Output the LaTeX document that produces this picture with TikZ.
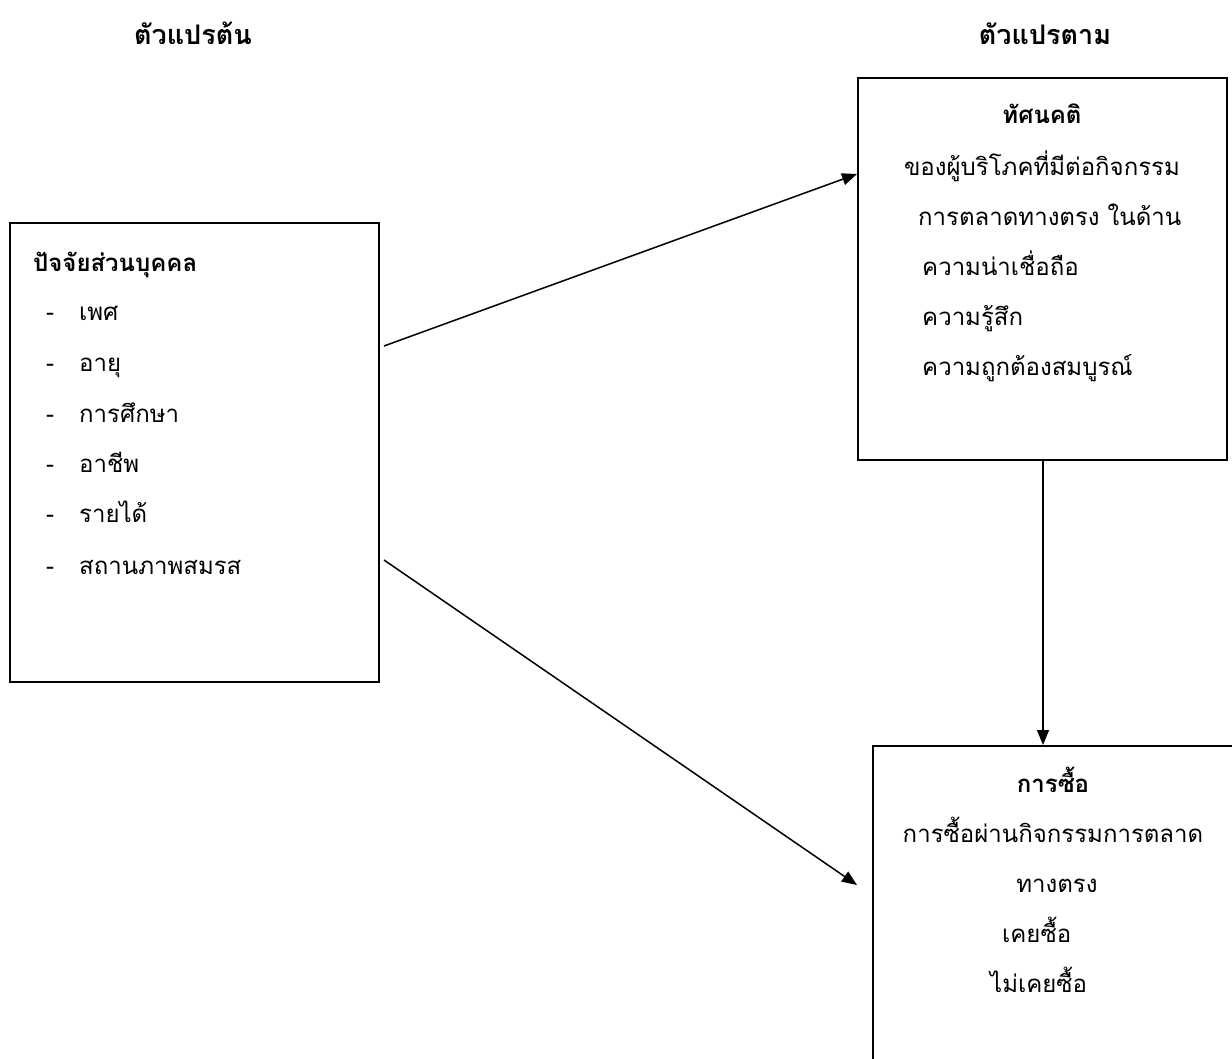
\documentclass[tikz,border=0pt]{standalone}
\usepackage{fontspec}
\newfontfamily\thaifont[Script=Thai]{Loma}
\usetikzlibrary{arrows.meta}
\begin{document}
\begin{tikzpicture}[x=1pt,y=-1pt,
  boxframe/.style={draw=black,line width=2pt,inner sep=0pt,anchor=north west},
  conn/.style={line width=1.5pt,-{Triangle[length=15pt,width=12pt]}},
  ttl/.style={font=\thaifont\fontsize{27}{30}\selectfont\bfseries,anchor=base,inner sep=0pt},
  txt/.style={font=\thaifont\fontsize{24}{28}\selectfont,inner sep=0pt},
  btxt/.style={font=\thaifont\fontsize{24}{28}\selectfont\bfseries,inner sep=0pt}]
\useasboundingbox (0,0) rectangle (1232,1059);
\clip (0,0) rectangle (1232,1059);
% titles
\node[ttl] (t1) at (193,45) {ตัวแปรต้น};
\node[ttl] (t2) at (1045,45) {ตัวแปรตาม};
% boxes
\node[boxframe,minimum width=369pt,minimum height=459pt] (left) at (9,222) {};
\node[boxframe,minimum width=369pt,minimum height=382pt] (att) at (857,77) {};
\node[boxframe,minimum width=380pt,minimum height=340pt] (buy) at (872,745) {};
% left box text
\node[btxt,anchor=base west] (l0) at (33,272) {ปัจจัยส่วนบุคคล};
\foreach \y/\t/\n in {321/เพศ/a,372/อายุ/b,422/การศึกษา/c,472/อาชีพ/d,522/รายได้/e,574/สถานภาพสมรส/f}{
  \node[txt,anchor=base] (d\n) at (50,\y) {-};
  \node[txt,anchor=base west] (i\n) at (79,\y) {\t};
}
% attitude box text
\node[btxt,anchor=base] (a0) at (1042,124) {ทัศนคติ};
\node[txt,anchor=base] (a1) at (1042,176) {ของผู้บริโภคที่มีต่อกิจกรรม};
\node[txt,anchor=base west] (a2) at (918,226) {การตลาดทางตรง ในด้าน};
\node[txt,anchor=base west] (a3) at (922,276) {ความน่าเชื่อถือ};
\node[txt,anchor=base west] (a4) at (922,326) {ความรู้สึก};
\node[txt,anchor=base west] (a5) at (922,376) {ความถูกต้องสมบูรณ์};
% buying box text
\node[btxt,anchor=base] (b0) at (1053,792) {การซื้อ};
\node[txt,anchor=base] (b1) at (1053,842) {การซื้อผ่านกิจกรรมการตลาด};
\node[txt,anchor=base] (b2) at (1057,892) {ทางตรง};
\node[txt,anchor=base west] (b3) at (1002,942) {เคยซื้อ};
\node[txt,anchor=base west] (b4) at (990,992) {ไม่เคยซื้อ};
% connectors
\coordinate (s1) at (384,346);
\coordinate (e1) at (857,174);
\coordinate (s2) at (384,560);
\coordinate (e2) at (857,885);
\draw[conn] (s1) -- (e1);
\draw[conn] (s2) -- (e2);
\draw[conn] (att.south -| 1043,0) -- (buy.north -| 1043,0);
\end{tikzpicture}
\end{document}
